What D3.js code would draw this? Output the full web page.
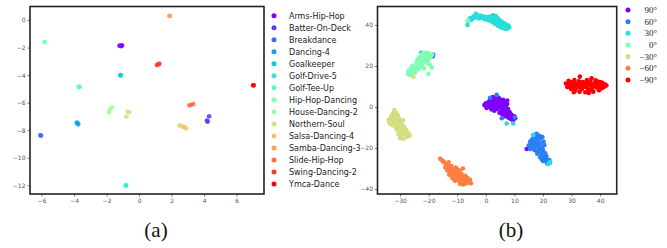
<!DOCTYPE html>
<html><head><meta charset="utf-8">
<script src="https://cdn.jsdelivr.net/npm/d3@7"></script>
<style>
html,body{margin:0;padding:0;background:#fff;}
svg{display:block;}
.tick text{font-family:"DejaVu Sans",sans-serif;font-size:6px;fill:#555;}
.tick line{stroke:#555;stroke-width:0.8;}
</style></head>
<body>
<svg id="c" width="667" height="248"></svg>
<script>
// ---------- Panel (a) data ----------
const danceNames = ["Arms-Hip-Hop","Batter-On-Deck","Breakdance","Dancing-4","Goalkeeper","Golf-Drive-5","Golf-Tee-Up","Hip-Hop-Dancing","House-Dancing-2","Northern-Soul","Salsa-Dancing-4","Samba-Dancing-3","Slide-Hip-Hop","Swing-Dancing-2","Ymca-Dance"];
const dancePoints = [
  [[-1.2,-1.86],[-1.05,-1.84],[-1.1,-1.9]],
  [[4.31,-6.99],[4.18,-7.30],[4.22,-7.38]],
  [[-6.07,-8.37],[-6.03,-8.40]],
  [[-3.83,-7.45],[-3.75,-7.57],[-3.78,-7.50]],
  [[-1.15,-4.02],[-1.12,-4.0]],
  [[-0.82,-12.0],[-0.8,-12.02]],
  [[-3.71,-4.86],[-3.66,-4.84]],
  [[-5.83,-1.6],[-5.8,-1.6]],
  [[-1.85,-6.7],[-1.8,-6.5],[-1.66,-6.34]],
  [[-0.7,-6.65],[-0.6,-6.7],[-0.78,-7.02]],
  [[2.5,-7.65],[2.65,-7.72],[2.8,-7.8],[2.9,-7.87]],
  [[1.87,0.29],[1.9,0.3]],
  [[3.1,-6.19],[3.2,-6.16],[3.34,-6.1]],
  [[1.1,-3.27],[1.2,-3.2],[1.25,-3.18]],
  [[7.03,-4.74],[7.05,-4.74]]
];
const aXTicks = [-6,-4,-2,0,2,4,6];
const aYTicks = [0,-2,-4,-6,-8,-10,-12];

// ---------- Panel (b) data ----------
const angleLabels = ["90\u00b0","60\u00b0","30\u00b0","0\u00b0","\u221230\u00b0","\u221260\u00b0","\u221290\u00b0"];
const pts90 = [[-0.5,1.0],[0,1.8],[0.5,0.5],[1,2.5],[1.2,0],[1.8,1.2],[2,3],[2.5,-0.5],[2.8,2],[3,4.2],[3.5,0.8],[3.8,3],[4,-1],[4.2,1.8],[4.5,4.5],[5,0],[5.2,2.5],[5.5,-1.5],[5.8,1],[6,3.5],[6.3,-0.5],[6.8,2],[7,0.5],[7.5,3.2],[7.8,-1],[6.5,-2.5],[7,-3],[7.5,-2],[8,-3.5],[8.3,-2.5],[8.5,-4.5],[9,-3.8],[9.5,-5],[10,-4.5],[10.3,-5.5],[8.8,-5.8],[7.8,-5],[6.8,-4.5],[3,-1.8],[2,-1.2],[4.8,-2.8],[1.5,4],[2.5,4.8],[5.8,-3.5],[9.5,-6.5],[0.3,-0.5],[1,1],[2,2],[3,3],[4,2.5],[5,1.5],[6,2],[4.5,0.5],[3.5,-0.5],[6,-1],[7.2,-1.8],[8.5,-3.2],[9.2,-4.5],[6,0.8],[1.5,0],[0,0.5],[2.5,1],[5,3.5],[3.8,4.2],[7.5,1.5],[8.2,-5.3],[14.3,-20.5],[-5.6,43.0]];
const pts60 = [[16.8,-13.5],[17.8,-13],[18.8,-14],[16.5,-15.2],[17.5,-15.8],[19,-15.5],[19.8,-14.6],[15.5,-17],[16.5,-17.5],[17.8,-17.2],[19,-17.8],[20.2,-16.8],[15,-18.8],[16.2,-19.3],[17.5,-19],[18.5,-19.8],[19.8,-19.5],[20.5,-18.5],[15.5,-20.5],[17,-21],[18.8,-21.5],[20,-21],[18,-22.8],[19.5,-23],[20.8,-22.5],[19,-24.5],[20.2,-24.8],[21.2,-24],[20,-26.3],[21.2,-26.5],[22.2,-25.8],[21.5,-27.5],[22.5,-27],[17.2,-14.3],[18.2,-15],[16,-16.2],[18.3,-16.5],[17,-18.2],[18.3,-18.3],[16.8,-20],[19.2,-20.6],[18,-21.5],[19.3,-22.2],[20.2,-23.8],[19.6,-25.5],[21,-25.3],[15.8,-18.2],[3.8,5.9],[1.5,4.5],[5.6,-5.5],[10.2,-5.0],[-18.4,25.6],[-18.6,24.6],[2.6,44.6]];
const pts30 = [[-6.4,40],[-6.3,42],[-5.5,43.2],[-5,42.5],[-4.5,43.8],[-4,44.5],[-3.5,45.5],[-3,44],[-2.5,43.2],[-2,44.6],[-1.5,43.5],[-1,44.2],[-0.5,42.8],[0,43.8],[0.5,42.5],[1,44],[1.2,42.2],[1.8,43.5],[2.3,41.5],[2.5,43],[3,42.2],[3.2,40.5],[3.6,43.8],[4,41.2],[4.3,39.5],[4.6,42.5],[5,40.5],[5.3,38.8],[5.6,41.5],[6,39.8],[6.3,38.3],[6.6,40.8],[7,39.2],[7.3,38],[7.8,39.8],[8.2,38.8],[2,44.5],[3.5,44.3],[-5.8,42.3],[-4.8,43.2],[-4,43.5],[-3.2,44.8],[-2.2,43.8],[-1.2,44],[0.2,43.2],[1.5,43.2],[2.8,42.5],[3.8,42.2],[4.5,40.8],[5.8,40.2],[6.8,39.3],[7.6,38.6],[3,43.6],[4.2,43.2],[5.2,41.8],[7.3,-8],[9.6,-8],[16.6,-13.7],[21.9,-27.8],[22.4,-26.8],[-22.6,26.6]];
const pts0 = [[-27.3,16.2],[-26.5,15.6],[-26.2,17.2],[-27,17.8],[-25.6,16.5],[-25.8,18.6],[-25,17.6],[-24.6,19.8],[-25.5,20.2],[-24.2,18.3],[-23.8,21],[-24.3,22],[-23.2,19.8],[-23,22.8],[-22.8,21.2],[-22.2,20],[-23.3,24.2],[-22.3,23.6],[-21.6,22.2],[-22.6,25.4],[-21.5,25],[-21,23.5],[-20.6,24.8],[-20.2,22.8],[-19.8,25.8],[-19.3,24.5],[-21.8,26.3],[-20.5,26.4],[-18.8,25.6],[-20.5,21.2],[-21.6,18.8],[-20.1,16.2],[-18.9,19.3],[-19.5,20.5],[-26,19.5],[-24.7,16.8],[-23.8,23.4],[-26.3,16.5],[-25.3,17.8],[-24.5,18.8],[-24,20.5],[-23.5,21.8],[-22.8,23],[-22,24.5],[-21,24.8],[-20.3,25.5],[-22.5,22],[-21.7,23.5],[-20.8,22.3],[-23.5,18.5],[-25,19],[-19.8,23.8],[-30.8,-3.9],[-11.7,-33.7],[-6.3,42.3]];
const ptsM30 = [[-32,-1.5],[-31.5,-2.8],[-32.6,-3.5],[-31,-4.2],[-33.2,-5],[-32,-5.5],[-30.4,-5.8],[-34,-6.2],[-33,-7],[-31.5,-6.8],[-30,-7.5],[-32.2,-8.3],[-31,-8.8],[-29.3,-8.6],[-33.5,-8],[-30.5,-10],[-29.5,-10.5],[-28.5,-9.8],[-31.2,-11],[-30,-12],[-28.8,-11.8],[-27.8,-11.2],[-30.6,-13.2],[-29.4,-13.8],[-28.4,-13],[-27,-12.8],[-30,-15.2],[-28.8,-15.5],[-27.6,-14.5],[-26.6,-14],[-32.8,-4],[-29,-6.5],[-32.2,-2.5],[-31.8,-4.5],[-32.5,-6.2],[-31.2,-5.5],[-30.8,-7.5],[-31.8,-9.5],[-30.2,-9],[-29.6,-11.2],[-29,-12.8],[-28,-12],[-29.8,-14.5],[-33.8,-7.2],[-32.8,-8.8],[-25.3,14.8]];
const ptsM60 = [[-16,-25.2],[-15.3,-26],[-14.6,-26.8],[-14,-27.8],[-13.2,-28.3],[-14.2,-29.5],[-12.8,-29.8],[-12,-28.8],[-13.5,-31],[-12.4,-31.5],[-11.2,-30.5],[-10.5,-29.5],[-12.8,-33],[-11.5,-32.8],[-10.2,-32],[-9.2,-31],[-8.5,-32.5],[-11.8,-34.5],[-10.5,-34],[-9.5,-33.8],[-8.2,-34.5],[-7.2,-33.5],[-10.8,-36],[-9.5,-35.8],[-8.5,-36.5],[-7.5,-35.5],[-6.5,-34.5],[-5.5,-35.5],[-9,-37.5],[-7.8,-37.8],[-6.5,-37],[-5.2,-37.2],[-11,-31.5],[-13,-27],[-8,-30],[-15,-26.5],[-13.8,-28.8],[-12.6,-30.6],[-11.8,-31.8],[-10.8,-33],[-9.8,-32.8],[-9,-34.6],[-8,-35.5],[-7,-36.2],[-6,-36],[-10,-35],[-11.2,-35.2],[-8.5,-33.5],[-6.2,-35.6],[-7.2,-37.2],[-10,-30.5]];
const ptsM90 = [[28,11.5],[28.5,9.8],[29,12.8],[29.3,10.8],[29.8,8.8],[30.2,12],[30.5,10],[31,13.2],[31.2,8],[31.6,11.2],[32,9.5],[32.5,12.5],[32.9,14.8],[32.8,7.5],[33.2,10.8],[33.6,8.8],[34,12.2],[34.3,9.8],[34.8,7.2],[35,11.5],[35.4,13.2],[35.8,8.5],[36.2,10.5],[36.6,12.5],[37,14],[37.2,9.2],[37.6,7.5],[38,11.5],[38.4,13],[38.8,9.5],[39.2,11],[39.6,8.2],[40,12.2],[40.4,10.2],[40.8,11.8],[41.3,9.8],[41.8,11],[42.2,10.5],[36,6.8],[30.8,7.2],[28.8,11],[29.6,11.8],[30,9.2],[30.8,11],[31.5,9.8],[32.2,11],[33,12],[33.8,10.2],[34.5,11],[35.3,9.8],[36,12],[36.8,11.2],[37.6,10.2],[38.3,10.8],[39,12.5],[39.8,9.8],[40.6,9.2],[41.6,10.5],[33,9.8],[37,8.3]];
const angleSeries = [pts90, pts60, pts30, pts0, ptsM30, ptsM60, ptsM90];
const bXTicks = [-30,-20,-10,0,10,20,30,40];
const bYTicks = [40,20,0,-20,-40];

// matplotlib "rainbow" colormap
function rainbow(t){
  const r = Math.min(1, Math.abs(2*t-0.5));
  const g = Math.sin(Math.PI*t);
  const b = Math.cos(Math.PI*t/2);
  return d3.rgb(Math.round(255*r), Math.round(255*Math.max(0,g)), Math.round(255*Math.max(0,b)));
}
const minus = s => String(s).replace("-", "\u2212");

const svg = d3.select("#c");

function panel(g, x, y, xt, yt){
  const [x0,x1] = x.range(), [y0,y1] = y.range();
  g.append("g").attr("transform",`translate(0,${y0})`)
    .call(d3.axisBottom(x).tickValues(xt).tickSize(2.5).tickPadding(2).tickFormat(minus))
    .call(a=>a.select(".domain").remove());
  g.append("g").attr("transform",`translate(${x0},0)`)
    .call(d3.axisLeft(y).tickValues(yt).tickSize(2.5).tickPadding(2).tickFormat(minus))
    .call(a=>a.select(".domain").remove());
  g.append("rect").attr("x",x0).attr("y",y1).attr("width",x1-x0).attr("height",y0-y1)
    .attr("fill","none").attr("stroke","#222").attr("stroke-width",1.6);
}

// ---------- Panel (a) ----------
const xa = d3.scaleLinear().domain([-6.71, 7.69]).range([30, 264]);
const ya = d3.scaleLinear().domain([-12.63, 0.98]).range([194, 6.5]);
const ga = svg.append("g");
const dColor = d3.scaleOrdinal().domain(danceNames).range(danceNames.map((d,i)=>rainbow(i/(danceNames.length-1))));
danceNames.forEach((n,i)=>{
  ga.append("g").selectAll("circle").data(dancePoints[i]).join("circle")
    .attr("cx",d=>xa(d[0])).attr("cy",d=>ya(d[1])).attr("r",2.4)
    .attr("fill",dColor(n)).attr("fill-opacity",0.85);
});
panel(ga, xa, ya, aXTicks, aYTicks);
const la = svg.append("g");
const lay = d3.scalePoint().domain(danceNames).range([15.7, 184]);
danceNames.forEach(n=>{
  la.append("circle").attr("cx",274).attr("cy",lay(n)).attr("r",2.5).attr("fill",dColor(n));
  la.append("text").attr("x",289).attr("y",lay(n)).attr("dy","0.35em")
    .attr("font-family","DejaVu Sans, sans-serif").attr("font-size",8).attr("fill","#222").text(n);
});

// ---------- Panel (b) ----------
const xb = d3.scaleLinear().domain([-37.9, 45.8]).range([377.5, 616.7]);
const yb = d3.scaleLinear().domain([-42.4, 49.0]).range([194, 6.5]);
const gb = svg.append("g");
const aColor = d3.scaleOrdinal().domain(angleLabels).range(angleLabels.map((d,i)=>rainbow(i/(angleLabels.length-1))));
angleLabels.forEach((n,i)=>{
  gb.append("g").selectAll("circle").data(angleSeries[i]).join("circle")
    .attr("cx",d=>xb(d[0])).attr("cy",d=>yb(d[1])).attr("r",2.3)
    .attr("fill",aColor(n));
});
panel(gb, xb, yb, bXTicks, bYTicks);
const lb = svg.append("g");
const lby = d3.scalePoint().domain(angleLabels).range([10, 80]);
angleLabels.forEach(n=>{
  lb.append("circle").attr("cx",628).attr("cy",lby(n)).attr("r",2.5).attr("fill",aColor(n));
  lb.append("text").attr("x",657).attr("y",lby(n)).attr("dy","0.35em").attr("text-anchor","end")
    .attr("font-family","Liberation Serif, serif").attr("font-size",9).attr("fill","#222").text(n);
});

// ---------- Captions ----------
[["(a)",156],["(b)",511]].forEach(([t,x])=>{
  svg.append("text").attr("x",x).attr("y",237).attr("text-anchor","middle")
    .attr("font-family","Liberation Serif, serif").attr("font-size",21).attr("fill","#111").text(t);
});
</script>
</body></html>
